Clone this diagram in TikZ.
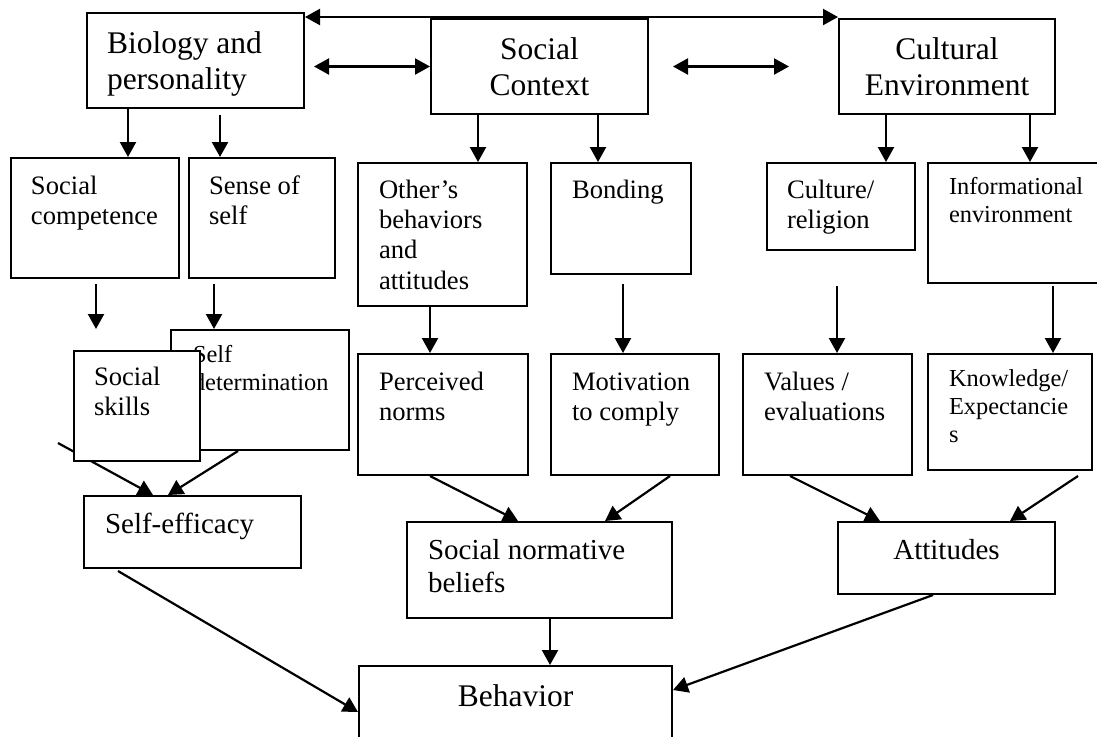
\documentclass[tikz,border=0pt]{standalone}
\usepackage{fontspec}
\setmainfont{Liberation Serif}
\usetikzlibrary{arrows.meta, calc}
\hyphenpenalty = 10000
\exhyphenpenalty = 10000

\begin{document}
\begin{tikzpicture}[
        x = 0.5pt, y = -0.5pt,
        box/.style = {draw, fill = white, line width = 1pt, anchor = north west, inner ysep = 0pt, align = flush left},
        mid/.style = {align = flush center},
        txtbig/.style = {font = \fontsize{15.75}{18}\selectfont},
        txtmid/.style = {font = \fontsize{14.5}{16.7}\selectfont},
        txtmain/.style = {font = \fontsize{13.3}{15.2}\selectfont},
        txtsmall/.style = {font = \fontsize{12.2}{14}\selectfont},
        arr/.style = {-{Triangle[length = 7.5pt, width = 8pt]}, line width = 1.1pt},
        dbl/.style = {{Triangle[length = 7.5pt, width = 8pt]}-{Triangle[length = 7.5pt, width = 8pt]}, line width = 1.1pt}
    ]
        \useasboundingbox (0,0) rectangle (1097,736);
        \clip (0,0) rectangle (1097,736);

        \node[box, txtbig, inner xsep = 10pt, text width = 88.5pt, text height = 20pt, text depth = 27.5pt] (bio) at (86,12) {
            Biology and
            \\
            personality
        };
        \node[box, mid, txtbig, inner xsep = 10pt, text width = 88.5pt, text height = 20pt, text depth = 27.5pt] (soc) at (430,18) {
            Social
            \\
            Context
        };
        \node[box, mid, txtbig, inner xsep = 10pt, text width = 88pt, text height = 20pt, text depth = 27.5pt] (cul) at (838,18) {
            Cultural
            \\
            Environment
        };

        \node[box, txtmain, inner xsep = 10pt, text width = 64pt, text height = 18pt, text depth = 42pt] (scomp) at (10,157) {
            Social
            \\
            competence
        };
        \node[box, txtmain, inner xsep = 10pt, text width = 53pt, text height = 18pt, text depth = 42pt] (sself) at (188,157) {
            Sense of
            \\
            self
        };
        \node[box, txtmain, inner xsep = 10.5pt, text width = 63.5pt, text height = 17.5pt, text depth = 54pt] (oth) at (357,162) {
            Other’s
            \\
            behaviors
            \\
            and
            \\
            attitudes
        };
        \node[box, txtmain, inner xsep = 10.5pt, text width = 49pt, text height = 17.5pt, text depth = 38pt] (bond) at (550,162) {
            Bonding
        };
        \node[box, txtmain, inner xsep = 10pt, text width = 54pt, text height = 17.5pt, text depth = 26pt] (cr) at (766,162) {
            Culture/
            \\
            religion
        };
        \node[box, txtsmall, inner xsep = 10.5pt, text width = 65pt, text height = 15.5pt, text depth = 44.5pt] (info) at (927,162) {
            Informational
            \\
            environment
        };

        \node[box, txtmid, inner xsep = 10.5pt, text width = 87.5pt, text height = 18.5pt, text depth = 17.5pt] (se) at (83,495) {
            Self-efficacy
        };
        \coordinate (sk0) at ([shift = {(-25,-52)}]se.north west);
        \draw[arr] (sk0) -- ([shift = {(70,0)}]se.north west);

        \node[box, txtsmall, inner xsep = 11pt, text width = 67pt, text height = 16pt, text depth = 44pt] (sdet) at (170,329) {
            Self
            \\
            determination
        };
        \node[box, txtmain, inner xsep = 10pt, text width = 43pt, text height = 17pt, text depth = 38pt] (sk) at (73,350) {
            Social
            \\
            skills
        };
        \node[box, txtmain, inner xsep = 10.5pt, text width = 64pt, text height = 18pt, text depth = 42.5pt] (perc) at (357,353) {
            Perceived
            \\
            norms
        };
        \node[box, txtmain, inner xsep = 10.5pt, text width = 63pt, text height = 18pt, text depth = 42.5pt] (mot) at (550,353) {
            Motivation
            \\
            to comply
        };
        \node[box, txtmain, inner xsep = 10.5pt, text width = 63.5pt, text height = 18pt, text depth = 42.5pt] (val) at (742,353) {
            Values /
            \\
            evaluations
        };
        \node[box, txtsmall, inner xsep = 10.5pt, text width = 61pt, text height = 16pt, text depth = 42pt] (know) at (927,353) {
            Knowledge/
            \\
            Expectancie
            \\
            s
        };

        \node[box, txtmid, inner xsep = 10.5pt, text width = 111.5pt, text height = 18.5pt, text depth = 29.5pt] (snb) at (406,521) {
            Social normative
            \\
            beliefs
        };
        \node[box, mid, txtmid, inner xsep = 10.5pt, text width = 87.5pt, text height = 18.5pt, text depth = 17.5pt] (att) at (837,521) {
            Attitudes
        };
        \node[box, mid, txtbig, inner xsep = 10.5pt, text width = 135.5pt, text height = 20pt, text depth = 40pt] (beh) at (358,665) {
            Behavior
        };

        \draw[dbl] ([yshift = -2.5pt]bio.north east) coordinate (t0) -- (t0 -| cul.north west);
        \draw[dbl] ($(bio.east |- soc.west)+(9,0)$) -- (soc.west);
        \draw[dbl] ([xshift = 12pt]soc.east) -- ([xshift = -24.5pt]cul.west);

        \draw[arr] ([shift = {(42,0)}]bio.south west) coordinate (a1) -- (a1 |- scomp.north);
        \draw[arr] ([shift = {(134,6)}]bio.south west) coordinate (a2) -- (a2 |- sself.north);
        \draw[arr] ([shift = {(48,0)}]soc.south west) coordinate (a3) -- (a3 |- oth.north);
        \draw[arr] ([shift = {(168,0)}]soc.south west) coordinate (a4) -- (a4 |- bond.north);
        \draw[arr] ([shift = {(48,0)}]cul.south west) coordinate (a5) -- (a5 |- cr.north);
        \draw[arr] ([shift = {(192,0)}]cul.south west) coordinate (a6) -- (a6 |- info.north);

        \draw[arr] ([shift = {(86,5)}]scomp.south west) coordinate (b1) -- (b1 |- sdet.north);
        \draw[arr] ([shift = {(26,5)}]sself.south west) coordinate (b2) -- (b2 |- sdet.north);
        \draw[arr] ([shift = {(73,0)}]oth.south west) coordinate (b3) -- (b3 |- perc.north);
        \draw[arr] ([shift = {(73,9)}]bond.south west) coordinate (b4) -- (b4 |- mot.north);
        \draw[arr] ([shift = {(71,35)}]cr.south west) coordinate (b5) -- (b5 |- val.north);
        \draw[arr] ([shift = {(126,2)}]info.south west) coordinate (b6) -- (b6 |- know.north);

        \draw[arr] ([shift = {(68,0)}]sdet.south west) -- ([shift = {(85,0)}]se.north west);
        \draw[arr] ([shift = {(73,0)}]perc.south west) -- ([shift = {(112,0)}]snb.north west);
        \draw[arr] ([shift = {(120,0)}]mot.south west) -- ([shift = {(199,0)}]snb.north west);
        \draw[arr] ([shift = {(48,0)}]val.south west) -- ([shift = {(43,0)}]att.north west);
        \draw[arr] ([shift = {(151,5)}]know.south west) -- ([shift = {(173,0)}]att.north west);

        \draw[arr] ([shift = {(35,2)}]se.south west) -- ([shift = {(0,47)}]beh.north west);
        \draw[arr] ([shift = {(144,0)}]snb.south west) coordinate (c1) -- (c1 |- beh.north);
        \draw[arr] ([shift = {(96,0)}]att.south west) -- ([shift = {(0,25)}]beh.north east);
    \end{tikzpicture}
\end{document}
